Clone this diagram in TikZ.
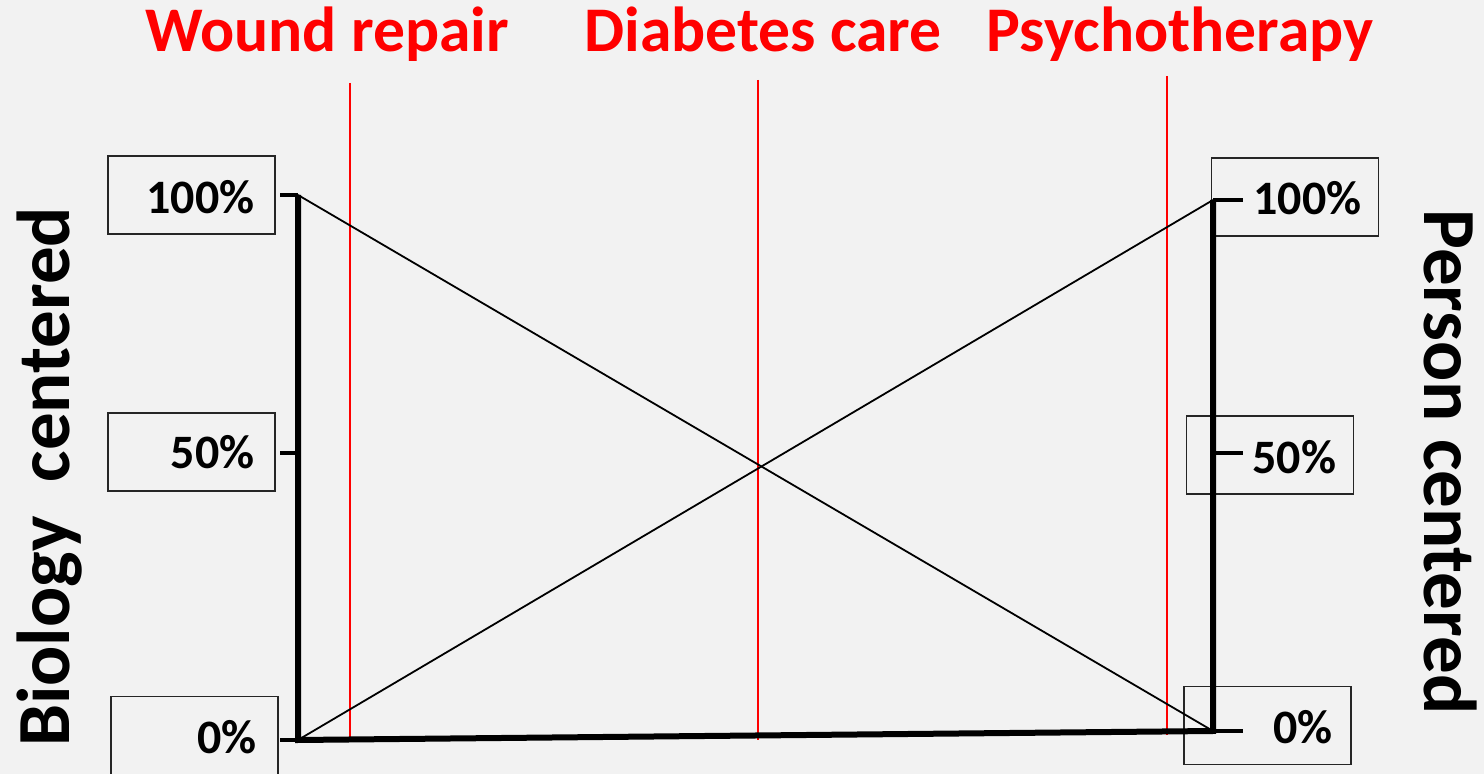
\documentclass[tikz,border=0pt]{standalone}
\usepackage{fontspec}
\setmainfont{Carlito}
\definecolor{bgGray}{HTML}{F2F2F2}
\definecolor{careRed}{HTML}{FF0000}
\tikzset{
  axisLine/.style={line width=3pt,line join=miter},
  tickLine/.style={line width=2.3pt},
  crossLine/.style={line width=0.9pt},
  valBox/.style={draw=black!85,line width=0.9pt,minimum width=83.5pt,minimum height=39pt,inner sep=0pt},
  valText/.style={font=\fontsize{24}{28}\selectfont\bfseries,inner sep=0pt},
  careLine/.style={draw=careRed,line width=1pt},
  careTitle/.style={text=careRed,anchor=base,inner sep=0pt,font=\fontsize{31.8}{36}\selectfont\bfseries},
  sideTitle/.style={anchor=base,inner sep=0pt,font=\fontsize{37.5}{40}\selectfont\bfseries}
}
\begin{document}
\begin{tikzpicture}[x=0.5pt,y=-0.5pt]
  \useasboundingbox (0,0) rectangle (1484,774);
  \fill[bgGray] (0,0) rectangle (1484,774);
  % value boxes
  \node[valBox] (boxL100) at (191.5,195) {};
  \node[valBox] (boxL50) at (191.5,452) {};
  \node[valBox] (boxL0) at (194.5,735.5) {};
  \node[valBox] (boxR100) at (1295,197) {};
  \node[valBox] (boxR50) at (1270,455) {};
  \node[valBox] (boxR0) at (1267.5,725.5) {};
  \node[valText,anchor=east] (txtL100) at (255,197) {100\%};
  \node[valText,anchor=east] (txtL50) at (255,452) {50\%};
  \node[valText,anchor=east] (txtL0) at (257,737) {0\%};
  \node[valText,anchor=west] (txtR100) at (1253,198) {100\%};
  \node[valText,anchor=west] (txtR50) at (1252,457) {50\%};
  \node[valText,anchor=west] (txtR0) at (1273,727) {0\%};
  % scale ends
  \coordinate (L100) at (298,195);
  \coordinate (L50) at (298,453);
  \coordinate (L0) at (298,740);
  \coordinate (R100) at (1213,200);
  \coordinate (R50) at (1213,453);
  \coordinate (R0) at (1213,731);
  % care lines
  \node[careTitle] (tWound) at (327,52) {Wound repair};
  \node[careTitle] (tDiab) at (763,52) {Diabetes care};
  \node[careTitle] (tPsych) at (1180,52) {Psychotherapy};
  \coordinate (wTop) at (350,83);
  \coordinate (wBot) at (350,742);
  \coordinate (dTop) at (758,80);
  \coordinate (dBot) at (758,740);
  \coordinate (pTop) at (1167,76);
  \coordinate (pBot) at (1167,735);
  \foreach \c in {w,d,p}
      \draw[careLine] (\c Top) -- (\c Bot);
  % axes and crossing lines
  \draw[crossLine] (L100) -- (R0);
  \draw[crossLine] (L0) -- (R100);
  \draw[axisLine] (L100) -- (L0) -- (R0) -- (R100);
  \foreach \v in {100,50,0} {
      \draw[tickLine] ([xshift=-9pt]L\v) -- (L\v);
      \draw[tickLine] (R\v) -- ([xshift=15pt]R\v);
  }
  \node[sideTitle,rotate=90] (tBio) at (69,477) {Biology\ \ centered};
  \node[sideTitle,rotate=-90] (tPers) at (1424,462) {Person centered};
\end{tikzpicture}
\end{document}
